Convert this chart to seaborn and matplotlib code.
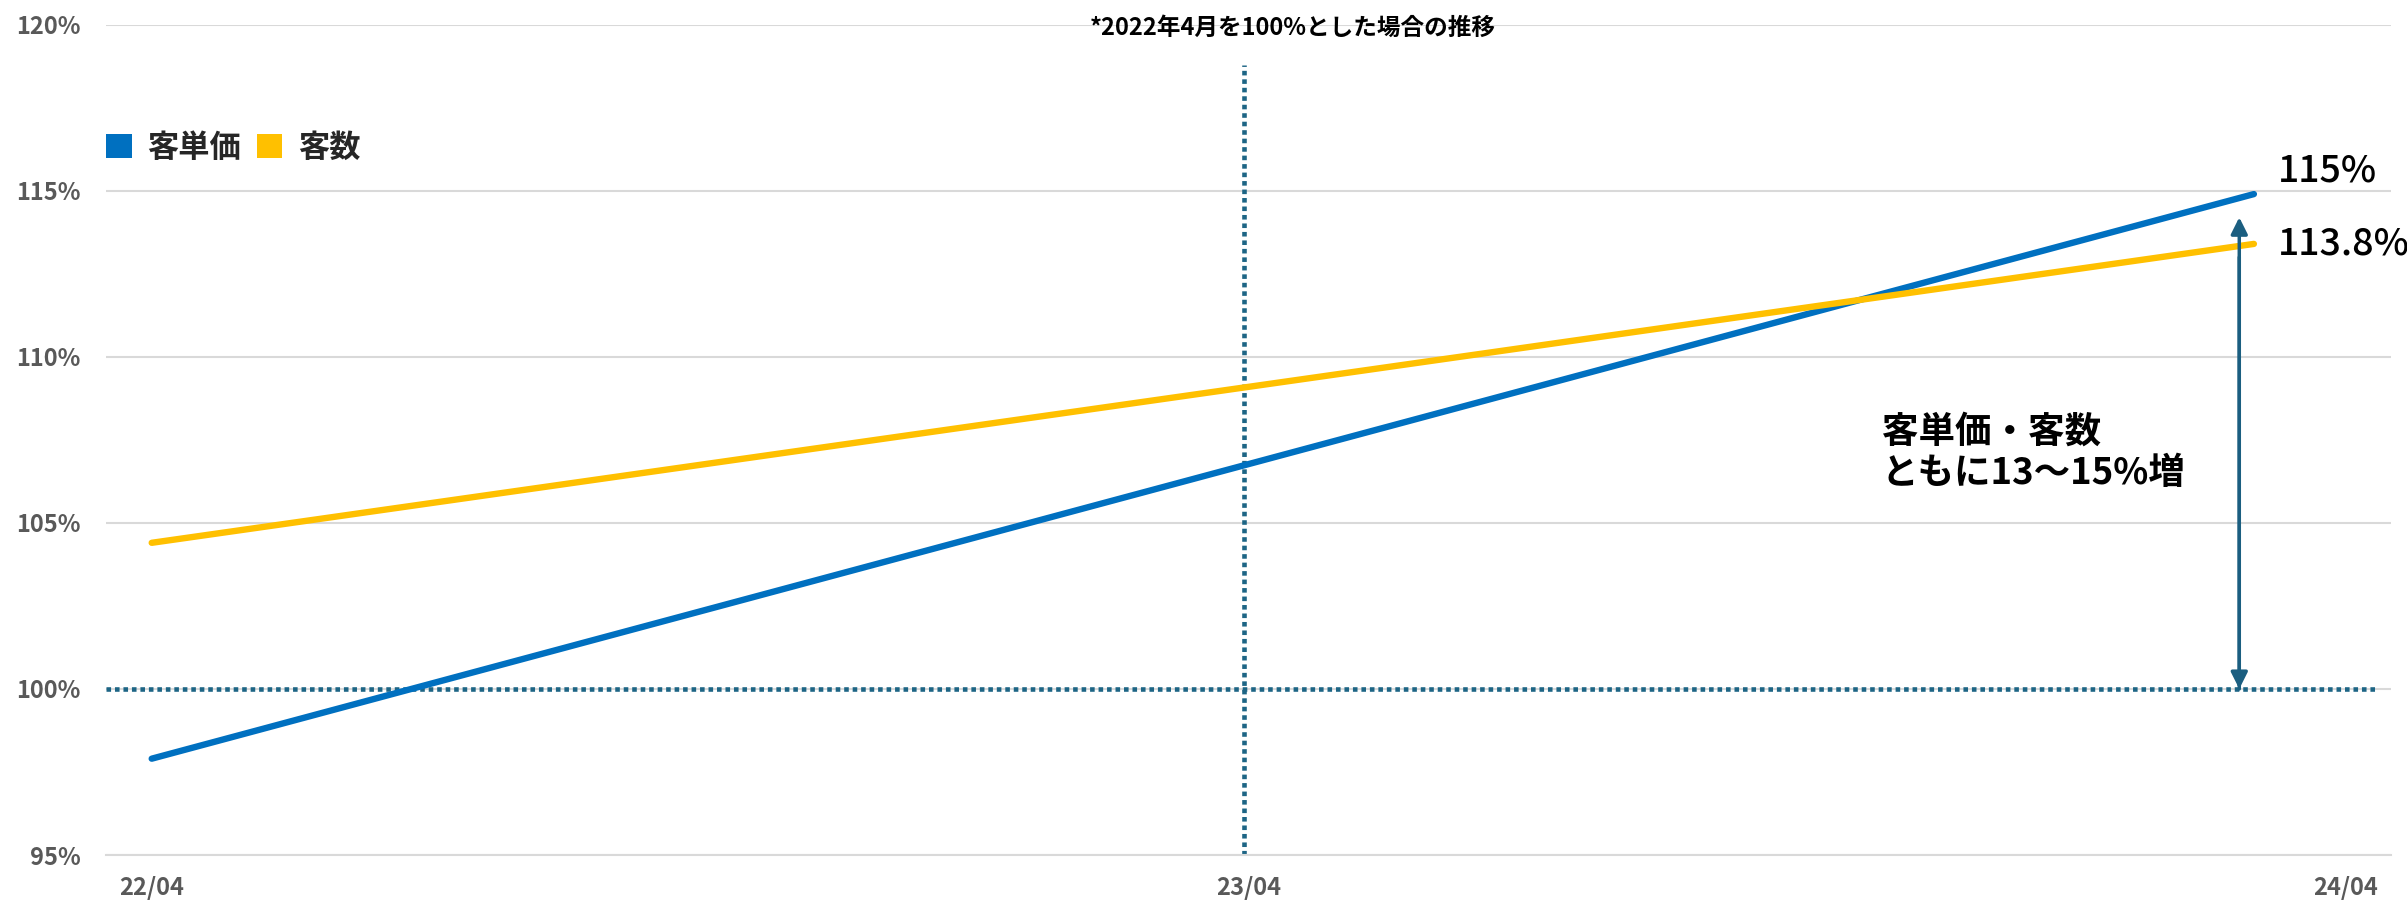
import numpy as np
import pandas as pd
import matplotlib
matplotlib.use("Agg")
import matplotlib.pyplot as plt
from matplotlib.patches import Patch
import seaborn as sns

# Trend values, month index counted from 22/04 (= 0)
trend_month = [0, 23]            # 22/04 -> 24/03
unit_price = [97.9, 114.9]       # 客単価 (%)
customers = [104.4, 113.4]       # 客数 (%)
series_names = ["客単価", "客数"]
series_colors = ["#0070C0", "#FFC000"]
end_labels = ["115%", "113.8%"]

tick_months = [0, 12, 24]
tick_labels = ["22/04", "23/04", "24/04"]
y_ticks = [95, 100, 105, 110, 115, 120]

base_value = 100
title_text = "*2022年4月を100%とした場合の推移"
note_text = "客単価・客数\nともに13～15%増"

# Build long table for seaborn
df = pd.DataFrame({
    "month": np.array(trend_month * 2) + 0.5,
    "value": unit_price + customers,
    "series": [series_names[0]] * len(trend_month) + [series_names[1]] * len(trend_month),
})

sns.set_style("white")
plt.rcParams["font.family"] = ["Noto Sans CJK JP", "DejaVu Sans"]

W, H = 2407, 909
fig = plt.figure(figsize=(W / 100, H / 100), dpi=100)
ax = fig.add_axes([106 / W, 1 - 855 / H, (2391 - 106) / W, (855 - 24.7) / H])

grid_col = "#D9D9D9"
ref_col = "#1D6585"

ax.set_xlim(0, 25)
ax.set_ylim(95, 120)
ax.set_yticks(y_ticks)
ax.set_yticklabels([f"{v}%" for v in y_ticks])
ax.yaxis.grid(True, color=grid_col, lw=1.5, zorder=0)
ax.set_axisbelow(True)
for s in ["top", "left", "right"]:
    ax.spines[s].set_visible(False)
ax.spines["bottom"].set_color(grid_col)
ax.spines["bottom"].set_linewidth(1.5)

ax.tick_params(axis="y", length=0, pad=18, labelsize=17, labelcolor="#595959")
for t in ax.get_yticklabels():
    t.set_fontweight("bold")

# major ticks at year boundaries, labels centered in the month
ax.set_xticks(tick_months)
ax.set_xticklabels([])
ax.set_xticks([m + 0.5 for m in tick_months], minor=True)
ax.set_xticklabels(tick_labels, minor=True)
ax.tick_params(axis="x", which="major", length=6, width=1.5, color=grid_col)
ax.tick_params(axis="x", which="minor", length=0, pad=15, labelsize=17, labelcolor="#595959")
for t in ax.get_xticklabels(minor=True):
    t.set_fontweight("bold")

# reference lines (100% baseline and 23/04 marker)
ax.plot([0, 24.82], [base_value, base_value], color=ref_col, lw=3.3,
        dashes=(1.0, 0.85), dash_capstyle="butt", zorder=2)
ax.plot([12.45, 12.45], [95, 118.8], color=ref_col, lw=3.3,
        dashes=(1.0, 0.85), dash_capstyle="butt", zorder=2)

sns.lineplot(data=df, x="month", y="value", hue="series",
             palette=dict(zip(series_names, series_colors)),
             linewidth=4.6, legend=False, ax=ax, zorder=3,
             solid_capstyle="round")
ax.set_xlabel("")
ax.set_ylabel("")

# end value labels
end_x = trend_month[-1] + 0.5
ax.text(end_x + 0.26, unit_price[-1] + 0.7, end_labels[0], fontsize=27,
        fontweight="medium", va="center", ha="left", color="black")
ax.text(end_x + 0.26, customers[-1], end_labels[1], fontsize=27,
        fontweight="medium", va="center", ha="left", color="black")

# double arrow from baseline up to top
ax.annotate("", xy=(23.34, 114.2), xytext=(23.34, base_value),
            arrowprops=dict(arrowstyle="-|>", color="#1B5E80", lw=2.5,
                            mutation_scale=25, shrinkA=0, shrinkB=0))
ax.annotate("", xy=(23.34, base_value), xytext=(23.34, 113.0),
            arrowprops=dict(arrowstyle="-|>", color="#1B5E80", lw=2.5,
                            mutation_scale=25, shrinkA=0, shrinkB=0))

ax.text(19.43, 107.11, note_text, fontsize=26.3, fontweight="bold",
        ha="left", va="center", linespacing=1.15, color="black")

# legend
handles = [Patch(facecolor=c, edgecolor="none") for c in series_colors]
fig.legend(handles, series_names, loc="center left",
           bbox_to_anchor=(106 / W, 1 - 148 / H), ncol=2, frameon=False,
           prop={"size": 22.5, "weight": "bold"}, handlelength=0.82,
           handleheight=0.82, handletextpad=0.5, columnspacing=0.5,
           borderpad=0, borderaxespad=0)

fig.text(1293 / W, 1 - 28 / H, title_text, ha="center", va="center",
         fontsize=17, fontweight="bold", color="black")

fig.savefig("out.png", dpi=100, facecolor="white")
